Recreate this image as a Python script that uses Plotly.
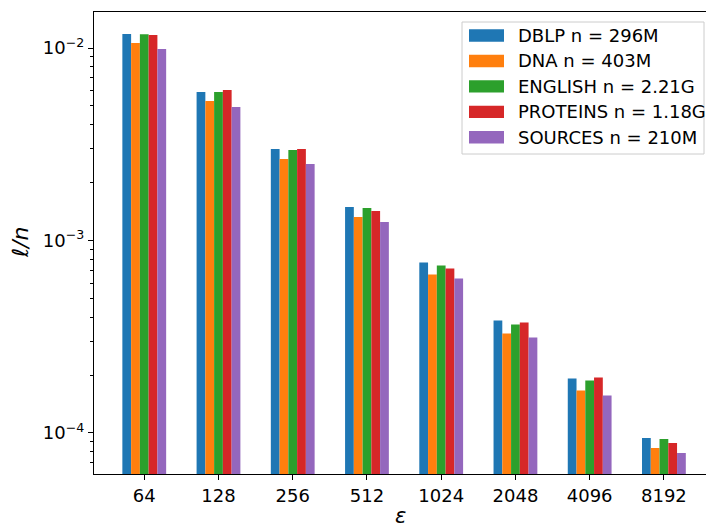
import plotly.graph_objects as go

# Error bound epsilon (x categories)
epsilons = ["64", "128", "256", "512", "1024", "2048", "4096", "8192"]

# Datasets and their sizes
datasets = ["DBLP n = 296M", "DNA n = 403M", "ENGLISH n = 2.21G",
            "PROTEINS n = 1.18G", "SOURCES n = 210M"]
colors = ["#1f77b4", "#ff7f0e", "#2ca02c", "#d62728", "#9467bd"]

# l/n ratio per epsilon, one list per dataset
dblp = [0.01182, 0.00591, 0.002988, 0.001493, 0.000769, 0.000384, 0.000192, 0.0000942]
dna = [0.01062, 0.00531, 0.00265, 0.001324, 0.000666, 0.000329, 0.0001663, 0.0000836]
english = [0.0118, 0.00591, 0.00295, 0.001476, 0.000741, 0.000366, 0.0001875, 0.0000931]
proteins = [0.01168, 0.00605, 0.00299, 0.001423, 0.000715, 0.000375, 0.000194, 0.0000887]
sources = [0.00988, 0.00494, 0.0025, 0.001248, 0.000635, 0.000313, 0.0001567, 0.0000787]

series = [dblp, dna, english, proteins, sources]

FONT = "DejaVu Sans"
FS = 18

fig = go.Figure()
for name, vals, col in zip(datasets, series, colors):
    fig.add_trace(go.Bar(x=epsilons, y=vals, name=name, marker_color=col,
                         marker_line_width=0, showlegend=False))

# Figure geometry (pixels)
W, H = 706, 529
ML, MR, MT, MB = 94, 0, 12, 55
PW, PH = W - ML - MR, H - MT - MB


def px(x):
    return (x - ML) / PW


def py(y):
    return (H - MB - y) / PH


major = [1e-4, 1e-3, 1e-2]
major_text = ["10<sup>\u22124</sup>", "10<sup>\u22123</sup>", "10<sup>\u22122</sup>"]
minor = [m * 10 ** e for e in (-5, -4, -3, -2) for m in range(2, 10)]

# Legend drawn as patches + labels
shapes = [dict(type="rect", xref="paper", yref="paper",
               x0=px(462), x1=px(704), y0=py(154), y1=py(22),
               line=dict(color="#cccccc", width=1),
               fillcolor="rgba(255,255,255,0.8)", layer="above")]
annotations = []
for i, (name, col) in enumerate(zip(datasets, colors)):
    cy = 35.5 + i * 25.45
    shapes.append(dict(type="rect", xref="paper", yref="paper",
                       x0=px(469), x1=px(504), y0=py(cy + 6.2), y1=py(cy - 6.2),
                       line=dict(width=0), fillcolor=col, layer="above"))
    annotations.append(dict(xref="paper", yref="paper", x=px(516), y=py(cy),
                            text=name, showarrow=False, xanchor="left",
                            yanchor="middle",
                            font=dict(family=FONT, size=FS, color="#000000")))

# Axis titles
annotations.append(dict(xref="paper", yref="paper", x=px(20), y=py(243),
                        text="<i>\u2113/n</i>", showarrow=False, textangle=-90,
                        xanchor="center", yanchor="middle",
                        font=dict(family=FONT, size=22, color="#000000")))
annotations.append(dict(xref="paper", yref="paper", x=px(400), y=py(516),
                        text="<i>\u03b5</i>", showarrow=False,
                        xanchor="center", yanchor="middle",
                        font=dict(family=FONT, size=21, color="#000000")))

fig.update_layout(
    width=W, height=H,
    margin=dict(l=ML, r=MR, t=MT, b=MB),
    paper_bgcolor="white", plot_bgcolor="white",
    barmode="group", bargap=0.41, bargroupgap=0,
    font=dict(family=FONT, size=FS, color="#000000"),
    shapes=shapes, annotations=annotations,
    xaxis=dict(
        type="category", range=[-0.677, 7.567],
        showgrid=False, zeroline=False,
        showline=True, linecolor="#000000", linewidth=1.2, mirror=True,
        ticks="outside", ticklen=5, tickwidth=1, tickcolor="#000000",
        tickfont=dict(family=FONT, size=FS, color="#000000"),
    ),
    yaxis=dict(
        type="log", range=[-4.2132, -1.8128],
        showgrid=False, zeroline=False,
        showline=True, linecolor="#000000", linewidth=1.2,
        ticks="outside", ticklen=5, tickwidth=1, tickcolor="#000000",
        tickvals=major, ticktext=major_text,
        tickfont=dict(family=FONT, size=FS, color="#000000"),
        minor=dict(tickvals=minor, ticks="outside", ticklen=3,
                   tickwidth=0.8, tickcolor="#000000", showgrid=False),
    ),
)

fig.write_html("out.html")
